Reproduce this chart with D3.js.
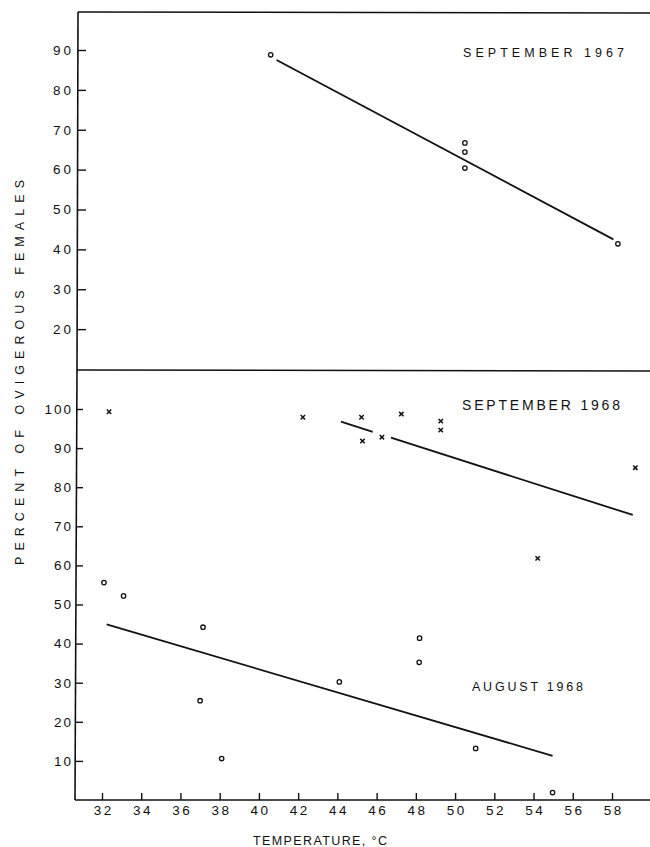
<!DOCTYPE html>
<html>
<head>
<meta charset="utf-8">
<script src="https://cdn.jsdelivr.net/npm/d3@7"></script>
<style>
  html, body { margin: 0; padding: 0; background: #fff; }
  svg { display: block; }
  text { font-family: "Liberation Sans", "DejaVu Sans", sans-serif; fill: #111; }
</style>
</head>
<body>
<svg id="chart" width="650" height="847"></svg>
<script>
// ---- Data ----
const xTicks = [32, 34, 36, 38, 40, 42, 44, 46, 48, 50, 52, 54, 56, 58];
const xTickLabels = ["32", "34", "36", "38", "40", "42", "44", "46", "48", "50", "52", "54", "56", "58"];
const yTopTicks = [20, 30, 40, 50, 60, 70, 80, 90];
const yBotTicks = [10, 20, 30, 40, 50, 60, 70, 80, 90, 100];

// September 1967 (top panel), open circles
const sep67X = [40.6, 50.5, 50.5, 50.5, 58.3];
const sep67Y = [88.8, 66.7, 64.4, 60.4, 41.4];
const sep67LineX = [40.9, 58.07];
const sep67LineY = [87.5, 42.5];

// September 1968 (bottom panel), crosses
const sep68X = [32.36, 42.24, 45.23, 45.28, 46.27, 47.26, 49.27, 49.27, 54.21, 59.19];
const sep68Y = [99.3, 97.9, 97.9, 91.8, 92.8, 98.7, 96.9, 94.6, 61.8, 85.0];
const sep68LineX = [44.18, 59.06];
const sep68LineY = [96.75, 72.9];
const sep68LineGap = [45.8, 46.73];

// August 1968 (bottom panel), open circles
const aug68X = [32.1, 33.1, 37.15, 37.0, 38.1, 44.1, 48.19, 48.17, 51.05, 54.97];
const aug68Y = [55.6, 52.2, 44.2, 25.4, 10.6, 30.2, 41.4, 35.2, 13.2, 1.9];
const aug68LineX = [32.24, 54.97];
const aug68LineY = [44.9, 11.3];

// ---- Layout ----
const svg = d3.select("#chart");
const x = d3.scaleLinear().domain([32, 58]).range([102, 612]);
const yTop = d3.scaleLinear().domain([10, 90]).range([369, 50]);
const yBot = d3.scaleLinear().domain([0, 100]).range([800, 409]);

const ink = "#111";

// Frame lines
const frame = svg.append("g").attr("stroke", ink).attr("stroke-width", 1.6).attr("fill", "none");
frame.append("line").attr("x1", 78).attr("y1", 12).attr("x2", 650).attr("y2", 13);
frame.append("line").attr("x1", 77).attr("y1", 370).attr("x2", 650).attr("y2", 371);
frame.append("line").attr("x1", 78).attr("y1", 12).attr("x2", 77).attr("y2", 370);
frame.append("line").attr("x1", 77).attr("y1", 370).attr("x2", 75).attr("y2", 800);
frame.append("line").attr("x1", 75).attr("y1", 800).attr("x2", 650).attr("y2", 800);

function styleAxis(g) {
  g.select(".domain").remove();
  g.selectAll(".tick line").attr("stroke", ink).attr("stroke-width", 1.4);
  g.selectAll(".tick text").attr("font-size", 13.5).attr("fill", ink)
    .attr("font-family", "Liberation Sans, DejaVu Sans, sans-serif");
}

// Top y axis
svg.append("g").attr("transform", "translate(78,0)")
  .call(d3.axisLeft(yTop).tickValues(yTopTicks).tickSize(-8).tickPadding(4))
  .call(styleAxis)
  .call(g => g.selectAll(".tick text").attr("letter-spacing", 3));

// Bottom y axis
svg.append("g").attr("transform", "translate(76,0)")
  .call(d3.axisLeft(yBot).tickValues(yBotTicks).tickSize(-7).tickPadding(3))
  .call(styleAxis)
  .call(g => g.selectAll(".tick text").attr("letter-spacing", 2));

// Bottom x axis
svg.append("g").attr("transform", "translate(0,800)")
  .call(d3.axisBottom(x).tickValues(xTicks).tickSize(-7).tickPadding(5)
    .tickFormat((d, i) => xTickLabels[i]))
  .call(styleAxis)
  .call(g => g.selectAll(".tick text").attr("letter-spacing", 2.5).attr("dx", 1.2));

// Regression lines
const lineG = svg.append("g").attr("stroke", ink).attr("stroke-width", 1.8).attr("fill", "none");
lineG.append("line")
  .attr("x1", x(sep67LineX[0])).attr("y1", yTop(sep67LineY[0]))
  .attr("x2", x(sep67LineX[1])).attr("y2", yTop(sep67LineY[1]));
lineG.append("line")
  .attr("x1", x(aug68LineX[0])).attr("y1", yBot(aug68LineY[0]))
  .attr("x2", x(aug68LineX[1])).attr("y2", yBot(aug68LineY[1]));
const sepY = v => sep68LineY[0] + (sep68LineY[1] - sep68LineY[0]) * (v - sep68LineX[0]) / (sep68LineX[1] - sep68LineX[0]);
lineG.append("line")
  .attr("x1", x(sep68LineX[0])).attr("y1", yBot(sep68LineY[0]))
  .attr("x2", x(sep68LineGap[0])).attr("y2", yBot(sepY(sep68LineGap[0])));
lineG.append("line")
  .attr("x1", x(sep68LineGap[1])).attr("y1", yBot(sepY(sep68LineGap[1])))
  .attr("x2", x(sep68LineX[1])).attr("y2", yBot(sep68LineY[1]));

// Circles
function circles(xs, ys, yScale) {
  svg.append("g").selectAll("circle").data(xs.map((v, i) => [v, ys[i]])).join("circle")
    .attr("cx", d => x(d[0])).attr("cy", d => yScale(d[1])).attr("r", 2.2)
    .attr("fill", "#fff").attr("stroke", ink).attr("stroke-width", 1.3);
}
circles(sep67X, sep67Y, yTop);
circles(aug68X, aug68Y, yBot);

// Crosses
const s = 2.2;
svg.append("g").attr("stroke", ink).attr("stroke-width", 1.5)
  .selectAll("path").data(sep68X.map((v, i) => [v, sep68Y[i]])).join("path")
  .attr("d", d => {
    const cx = x(d[0]), cy = yBot(d[1]);
    return `M${cx - s},${cy - s}L${cx + s},${cy + s}M${cx + s},${cy - s}L${cx - s},${cy + s}`;
  });

// Panel labels
function label(txt, x0, y0, len, size) {
  svg.append("text").attr("x", x0).attr("y", y0).attr("font-size", size)
    .attr("textLength", len).attr("lengthAdjust", "spacing").text(txt);
}
label("SEPTEMBER  1967", 463, 57, 161, 12.5);
label("SEPTEMBER  1968", 462, 410, 158, 14);
label("AUGUST  1968", 472, 691, 111, 12.5);

// Axis titles
svg.append("text").attr("transform", "translate(24,565) rotate(-90)")
  .attr("font-size", 12.5).attr("textLength", 385).attr("lengthAdjust", "spacing")
  .text("PERCENT  OF  OVIGEROUS  FEMALES");
svg.append("text").attr("x", 253).attr("y", 845).attr("font-size", 12.5)
  .attr("textLength", 134).attr("lengthAdjust", "spacing")
  .text("TEMPERATURE, °C");
</script>
</body>
</html>
